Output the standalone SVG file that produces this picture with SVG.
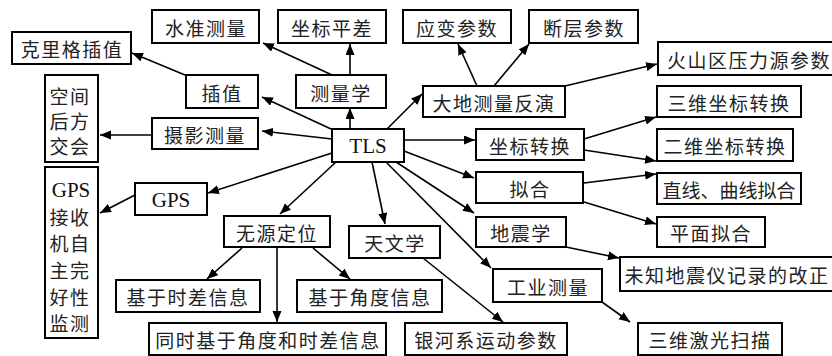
<svg xmlns="http://www.w3.org/2000/svg" width="832" height="356" viewBox="0 0 832 356">
<style>
.b{fill:#fff;stroke:#000;stroke-width:2}
.t{font-family:"Noto Sans CJK SC","Liberation Serif",serif;font-size:19px;letter-spacing:1.5px;fill:#222;text-anchor:middle;dominant-baseline:central}
.l{font-family:"Liberation Serif","Times New Roman",serif;font-size:21px;fill:#111;text-anchor:middle;dominant-baseline:central}
.c line{stroke:#000;stroke-width:1.6;marker-end:url(#a)}
</style>
<defs>
<marker id="a" markerUnits="userSpaceOnUse" markerWidth="12" markerHeight="10" refX="11" refY="4.5" orient="auto">
<path d="M0,0 L11,4.5 L0,9 z" fill="#000"/>
</marker>
</defs>
<rect width="832" height="356" fill="#fff"/>
<g class="c">
<line x1="350" y1="129" x2="350" y2="108"/>
<line x1="331" y1="129" x2="262" y2="97"/>
<line x1="332" y1="139" x2="262" y2="131"/>
<line x1="387" y1="129" x2="422" y2="94"/>
<line x1="404" y1="140" x2="475" y2="140"/>
<line x1="404" y1="151" x2="474" y2="178"/>
<line x1="396" y1="162" x2="474" y2="213"/>
<line x1="386" y1="162" x2="491" y2="268"/>
<line x1="372" y1="162" x2="385" y2="224"/>
<line x1="336" y1="162" x2="280" y2="214"/>
<line x1="332" y1="153" x2="208" y2="193"/>
<line x1="332" y1="75" x2="263" y2="43"/>
<line x1="350" y1="75" x2="350" y2="44"/>
<line x1="185" y1="75" x2="132" y2="53"/>
<line x1="152" y1="135" x2="100" y2="135"/>
<line x1="135" y1="195" x2="100" y2="213"/>
<line x1="242" y1="248" x2="207" y2="279"/>
<line x1="277" y1="247" x2="277" y2="322"/>
<line x1="313" y1="248" x2="350" y2="279"/>
<line x1="423" y1="258" x2="503" y2="322"/>
<line x1="477" y1="86" x2="458" y2="44"/>
<line x1="494" y1="86" x2="529" y2="44"/>
<line x1="565" y1="86" x2="657" y2="64"/>
<line x1="584" y1="139" x2="656" y2="117"/>
<line x1="584" y1="150" x2="656" y2="161"/>
<line x1="584" y1="183" x2="656" y2="174"/>
<line x1="584" y1="202" x2="656" y2="224"/>
<line x1="566" y1="247" x2="619" y2="258"/>
<line x1="602" y1="302" x2="630" y2="322"/>
</g>
<g id="n-sz"><rect class="b" x="152" y="10" width="107" height="33"/><text class="t" x="206" y="27">水准测量</text></g>
<g id="n-zbpc"><rect class="b" x="278" y="10" width="108" height="33"/><text class="t" x="332" y="27">坐标平差</text></g>
<g id="n-ybcs"><rect class="b" x="403" y="10" width="108" height="33"/><text class="t" x="457" y="27">应变参数</text></g>
<g id="n-dccs"><rect class="b" x="529" y="10" width="109" height="33"/><text class="t" x="584" y="27">断层参数</text></g>
<g id="n-klg"><rect class="b" x="12" y="32" width="119" height="32"/><text class="t" x="72" y="48">克里格插值</text></g>
<g id="n-hsq"><rect class="b" x="658" y="42" width="180" height="33"/><text class="t" x="749" y="59">火山区压力源参数</text></g>
<g id="n-cz"><rect class="b" x="186" y="75" width="72" height="33"/><text class="t" x="222" y="92">插值</text></g>
<g id="n-clx"><rect class="b" x="296" y="75" width="90" height="33"/><text class="t" x="341" y="92">测量学</text></g>
<g id="n-ddfy"><rect class="b" x="423" y="86" width="142" height="31"/><text class="t" x="494" y="102">大地测量反演</text></g>
<g id="n-swzb"><rect class="b" x="657" y="86" width="144" height="31"/><text class="t" x="729" y="102">三维坐标转换</text></g>
<g id="n-kj"><rect class="b" x="45" y="75" width="53" height="87"/><text class="t" x="70" y="95">空间</text><text class="t" x="70" y="120">后方</text><text class="t" x="70" y="145">交会</text></g>
<g id="n-sy"><rect class="b" x="152" y="118" width="106" height="31"/><text class="t" x="205" y="134">摄影测量</text></g>
<g id="n-tls"><rect class="b" x="332" y="129" width="72" height="33"/><text class="l" x="368" y="146">TLS</text></g>
<g id="n-zbzh"><rect class="b" x="476" y="129" width="108" height="31"/><text class="t" x="530" y="145">坐标转换</text></g>
<g id="n-ewzb"><rect class="b" x="657" y="129" width="136" height="32"/><text class="t" x="725" y="145">二维坐标转换</text></g>
<g id="n-gpsj"><rect class="b" x="45" y="167" width="53" height="171"/><text class="l" x="71" y="190">GPS</text><text class="t" x="70" y="216">接收</text><text class="t" x="70" y="242">机自</text><text class="t" x="70" y="269">主完</text><text class="t" x="70" y="296">好性</text><text class="t" x="70" y="322">监测</text></g>
<g id="n-gps"><rect class="b" x="135" y="183" width="72" height="32"/><text class="l" x="171" y="200">GPS</text></g>
<g id="n-nh"><rect class="b" x="476" y="172" width="107" height="31"/><text class="t" x="530" y="188">拟合</text></g>
<g id="n-zx"><rect class="b" x="657" y="173" width="144" height="31"/><text class="t" x="729" y="189" style="letter-spacing:0">直线、曲线拟合</text></g>
<g id="n-wydw"><rect class="b" x="224" y="216" width="106" height="31"/><text class="t" x="277" y="232">无源定位</text></g>
<g id="n-dzx"><rect class="b" x="476" y="217" width="90" height="30"/><text class="t" x="521" y="232">地震学</text></g>
<g id="n-pm"><rect class="b" x="657" y="217" width="108" height="30"/><text class="t" x="711" y="232">平面拟合</text></g>
<g id="n-twx"><rect class="b" x="349" y="226" width="91" height="32"/><text class="t" x="395" y="242">天文学</text></g>
<g id="n-wz"><rect class="b" x="620" y="257" width="216" height="34"/><text class="t" x="727" y="274">未知地震仪记录的改正</text></g>
<g id="n-gy"><rect class="b" x="493" y="269" width="109" height="33"/><text class="t" x="548" y="286">工业测量</text></g>
<g id="n-sc"><rect class="b" x="116" y="280" width="144" height="32"/><text class="t" x="188" y="296">基于时差信息</text></g>
<g id="n-jd"><rect class="b" x="297" y="280" width="145" height="32"/><text class="t" x="370" y="296">基于角度信息</text></g>
<g id="n-ts"><rect class="b" x="149" y="323" width="237" height="32"/><text class="t" x="268" y="339">同时基于角度和时差信息</text></g>
<g id="n-yh"><rect class="b" x="405" y="323" width="162" height="32"/><text class="t" x="486" y="339">银河系运动参数</text></g>
<g id="n-jg"><rect class="b" x="638" y="323" width="144" height="32"/><text class="t" x="710" y="339">三维激光扫描</text></g>
</svg>
